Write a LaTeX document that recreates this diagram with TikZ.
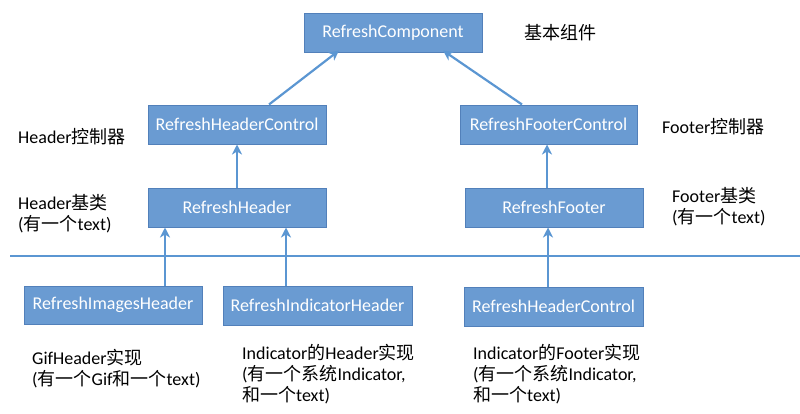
\documentclass[tikz,border=0pt]{standalone}
\usepackage{fontspec}
\setmainfont{Carlito}
\newfontfamily\cjk{Noto Sans CJK SC}
\newcommand\cj[1]{{\cjk #1}}
\usetikzlibrary{arrows.meta}
\definecolor{boxfill}{RGB}{106,155,210}
\definecolor{boxdraw}{RGB}{82,128,186}
\definecolor{linec}{RGB}{91,150,210}
\begin{document}
\begin{tikzpicture}[x=1pt,y=-1pt,
  box/.style={draw=boxdraw,line width=1pt,fill=boxfill,text=white,minimum height=39pt,inner sep=0pt,font=\fontsize{18}{21}\selectfont},
  lbl/.style={anchor=west,align=left,inner sep=0pt,font=\fontsize{18}{21}\selectfont},
  arr/.style={draw=linec,line width=2.2pt,-{Stealth[length=10pt,width=10pt,inset=3pt]}},
  plain/.style={draw=linec,line width=2.2pt}]
\useasboundingbox (0,0) rectangle (800,413);
\node[box,minimum width=178pt] (comp) at (393,32.5) {RefreshComponent};
\node[box,minimum width=178pt] (hctl) at (237,124.5) {RefreshHeaderControl};
\node[box,minimum width=177pt] (fctl) at (548.5,124.5) {RefreshFooterControl};
\node[box,minimum width=178pt] (hdr) at (237,207.5) {RefreshHeader};
\node[box,minimum width=178pt] (ftr) at (554,207.5) {RefreshFooter};
\node[box,minimum width=178pt,minimum height=38pt] (img) at (113,305) {RefreshImagesHeader};
\node[box,minimum width=189pt] (ind) at (317.5,305.5) {RefreshIndicatorHeader};
\node[box,minimum width=179pt] (hc2) at (553.5,306.5) {RefreshHeaderControl};

\node[lbl] (t1) at (524,33) {\cj{基本组件}};
\node[lbl] (t2) at (18,137) {Header\cj{控制器}};
\node[lbl] (t3) at (662,127) {Footer\cj{控制器}};
\node[lbl] (t4) at (18,214) {Header\cj{基类}\\(\cj{有一个}text)};
\node[lbl] (t5) at (672,207) {Footer\cj{基类}\\(\cj{有一个}text)};
\node[lbl] (t6) at (32,368.5) {GifHeader\cj{实现}\\(\cj{有一个}Gif\cj{和一个}text)};
\node[lbl] (t7) at (242,374) {Indicator\cj{的}Header\cj{实现}\\(\cj{有一个系统}Indicator,\\\cj{和一个}text)};
\node[lbl] (t8) at (473,374) {Indicator\cj{的}Footer\cj{实现}\\(\cj{有一个系统}Indicator,\\\cj{和一个}text)};

\coordinate (hl) at (10,256);
\coordinate (hr) at (800,256);
\draw[plain] (hl) -- (hr);

\draw[arr] ([xshift=32pt]hctl.north) -- ([xshift=-54pt,yshift=2pt]comp.south);
\draw[arr] ([xshift=-26.5pt]fctl.north) -- ([xshift=50pt,yshift=2pt]comp.south);
\draw[arr] (hdr.north) -- (hctl.south);
\draw[arr] ([xshift=-7pt]ftr.north) -- ([xshift=-1.5pt]fctl.south);
\draw[arr] ([xshift=52pt]img.north) -- ([xshift=-72pt]hdr.south);
\draw[arr] ([xshift=-31.5pt]ind.north) -- ([xshift=49pt]hdr.south);
\draw[arr] ([xshift=-5.5pt]hc2.north) -- ([xshift=-6pt]ftr.south);
\end{tikzpicture}
\end{document}
